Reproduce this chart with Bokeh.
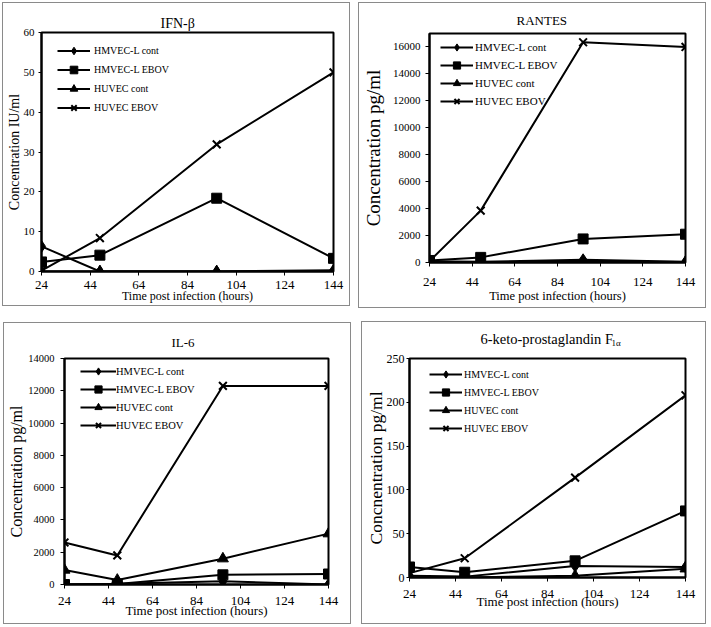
from bokeh.plotting import figure
from bokeh.models import (Range1d, FixedTicker, SingleIntervalTicker, Legend, LegendItem,
                          Title, LinearAxis)
from bokeh.embed import file_html
from bokeh.resources import INLINE

# ---------------- data ----------------
hours = [24, 48, 96, 144]
x_ticks = [24, 44, 64, 84, 104, 124, 144]
series_names = ["HMVEC-L cont", "HMVEC-L EBOV", "HUVEC cont", "HUVEC EBOV"]
x_title = "Time post infection (hours)"

ifn_hmvec_cont = [6.3, 0, 0, 0.3]
ifn_hmvec_ebov = [2.4, 4.1, 18.4, 3.3]
ifn_huvec_cont = [0, 0, 0, 0]
ifn_huvec_ebov = [0.2, 8.4, 31.9, 50.0]

rantes_hmvec_cont = [100, 60, 200, 60]
rantes_hmvec_ebov = [150, 380, 1750, 2100]
rantes_huvec_cont = [50, 0, 60, 30]
rantes_huvec_ebov = [100, 3850, 16350, 16000]

il6_hmvec_cont = [0, 50, 200, 0]
il6_hmvec_ebov = [0, 30, 600, 650]
il6_huvec_cont = [900, 280, 1600, 3150]
il6_huvec_ebov = [2600, 1800, 12300, 12300]

pgf_hmvec_cont = [2, 1, 13, 12]
pgf_hmvec_ebov = [12, 6, 19, 76]
pgf_huvec_cont = [0, 0, 2, 10]
pgf_huvec_ebov = [5, 22, 114, 208]

FONT = "Liberation Serif"
MARKERS = [("diamond", 12), ("square", 10), ("triangle", 11), ("x", 11)]


def add_title(p, s, offset, standoff, size):
    p.add_layout(Title(text=s, align="left", offset=offset, standoff=standoff,
                       text_font=FONT, text_font_size=size, text_font_style="normal",
                       text_color="black"), "above")


def label_axis(p, side, text, size, standoff, bounds):
    ax = LinearAxis(ticker=FixedTicker(ticks=[]), bounds=bounds, axis_label=text,
                    axis_label_text_font=FONT, axis_label_text_font_size=size,
                    axis_label_text_font_style="normal", axis_label_text_color="black",
                    axis_label_standoff=standoff, axis_line_color=None,
                    major_tick_line_color=None, minor_tick_line_color=None,
                    major_tick_out=0, major_tick_in=0, minor_tick_out=0, minor_tick_in=0,
                    major_label_standoff=0)
    p.add_layout(ax, side)


def panel(pos, width, height, borders, ymax, yint, series, leg,
          ylabel, ylabel_size, xlabel_size,
          xstand, xlab_stand, ystand, ylab_stand, ytick_out, ytick_size,
          xbounds, ybounds, xtick_size="13px"):
    left, right, top, bottom = borders
    p = figure(width=width, height=height, output_backend="svg", toolbar_location=None,
               title=None, x_range=Range1d(24, 144), y_range=Range1d(0, ymax),
               min_border_left=left, min_border_right=right,
               min_border_top=top, min_border_bottom=bottom,
               background_fill_color="white", border_fill_color="white")
    p.styles = {"position": "absolute", "left": f"{pos[0]}px", "top": f"{pos[1]}px",
                "box-shadow": "0 0 0 1px #8a8a8a"}
    p.xgrid.visible = False
    p.ygrid.visible = False
    p.outline_line_color = "black"
    p.outline_line_width = 2
    p.outline_line_alpha = 1

    p.xaxis.ticker = FixedTicker(ticks=x_ticks)
    p.yaxis.ticker = SingleIntervalTicker(interval=yint)
    p.yaxis.formatter.use_scientific = False
    for ax in (p.xaxis[0], p.yaxis[0]):
        ax.axis_line_color = "black"
        ax.axis_line_width = 2
        ax.major_tick_in = 0
        ax.major_tick_line_color = "black"
        ax.minor_tick_line_color = None
        ax.major_label_text_font = FONT
        ax.major_label_text_color = "black"
    p.xaxis.major_tick_out = 4
    p.yaxis.major_tick_out = ytick_out
    p.xaxis.major_label_text_font_size = xtick_size
    p.yaxis.major_label_text_font_size = ytick_size
    p.xaxis.major_label_standoff = xstand
    p.yaxis.major_label_standoff = ystand

    # axis titles on label-only axes, so that they can sit off-centre as in the original
    label_axis(p, "below", x_title, xlabel_size, xlab_stand, xbounds)
    label_axis(p, "left", ylabel, ylabel_size, ylab_stand, ybounds)

    items = []
    for name, vals, (mk, sz) in zip(series_names, series, MARKERS):
        r1 = p.line(hours, vals, line_color="black", line_width=2)
        r2 = p.scatter(hours, vals, marker=mk, size=sz, fill_color="black",
                       line_color="black", line_width=2 if mk == "x" else 1)
        items.append(LegendItem(label=name, renderers=[r1, r2]))

    gx, first_row, pitch, gw, stand, fsize = leg
    frame_h = height - top - bottom
    leg_h = len(items) * pitch
    ly = int(round(frame_h - (first_row - pitch / 2) - leg_h))
    legend = Legend(items=items, location=(gx, ly),
                    padding=0, margin=0, spacing=0, glyph_width=gw, glyph_height=pitch,
                    label_standoff=stand, label_height=pitch,
                    label_text_font=FONT, label_text_font_size=fsize,
                    label_text_color="black", background_fill_alpha=0,
                    border_line_color=None)
    p.add_layout(legend)
    return p


# ---- IFN-beta (top left) ----
p1 = panel((3, 3), 346, 302, (36, 16, 29, 33), 60, 10,
           [ifn_hmvec_cont, ifn_hmvec_ebov, ifn_huvec_cont, ifn_huvec_ebov],
           (16, 20, 19, 33, 4, "10px"),
           "Concentration IU/ml", "14px", "12px",
           xstand=5, xlab_stand=-3, ystand=3, ylab_stand=-1, ytick_out=3, ytick_size="11px",
           xbounds=(24, 139.2), ybounds=(8.5, 60))
add_title(p1, "IFN-β", 119, 3, "14px")

# ---- RANTES (top right) ----
p2 = panel((359, 3), 346, 304, (65, 20, 30, 45), 17000, 2000,
           [rantes_hmvec_cont, rantes_hmvec_ebov, rantes_huvec_cont, rantes_huvec_ebov],
           (11, 14, 18, 33, 2, "11px"),
           "Concentration pg/ml", "19px", "12.5px",
           xstand=11, xlab_stand=0, ystand=5, ylab_stand=6, ytick_out=4, ytick_size="11px",
           xbounds=(24, 136.8), ybounds=(2850, 17000))
add_title(p2, "RANTES", 87, 12, "13px")

# ---- IL-6 (bottom left) ----
p3 = panel((4, 323), 346, 300, (56, 22, 35, 39), 14000, 2000,
           [il6_hmvec_cont, il6_hmvec_ebov, il6_huvec_cont, il6_huvec_ebov],
           (16, 13, 18, 36, 0, "10.5px"),
           "Concentration pg/ml", "16px", "13px",
           xstand=8, xlab_stand=-5, ystand=6, ylab_stand=1, ytick_out=4, ytick_size="10.5px",
           xbounds=(27.3, 144), ybounds=(0, 14000))
add_title(p3, "IL-6", 107, 18, "13px")

# ---- 6-keto-prostaglandin F1alpha (bottom right) ----
p4 = panel((362, 322), 343, 301, (40, 20, 36, 46), 250, 50,
           [pgf_hmvec_cont, pgf_hmvec_ebov, pgf_huvec_cont, pgf_huvec_ebov],
           (20, 16, 18, 33, 2, "10px"),
           "Concnentration pg/ml", "17.5px", "13px",
           xstand=8, xlab_stand=-7, ystand=1, ylab_stand=-2, ytick_out=3, ytick_size="12px",
           xbounds=(29.4, 144), ybounds=(0, 238.6))
add_title(p4, "1α", 202, 22, "9px")
add_title(p4, "6-keto-prostaglandin F", 71, -44, "14.5px")

open("out.html", "w").write(file_html([p1, p2, p3, p4], INLINE))
